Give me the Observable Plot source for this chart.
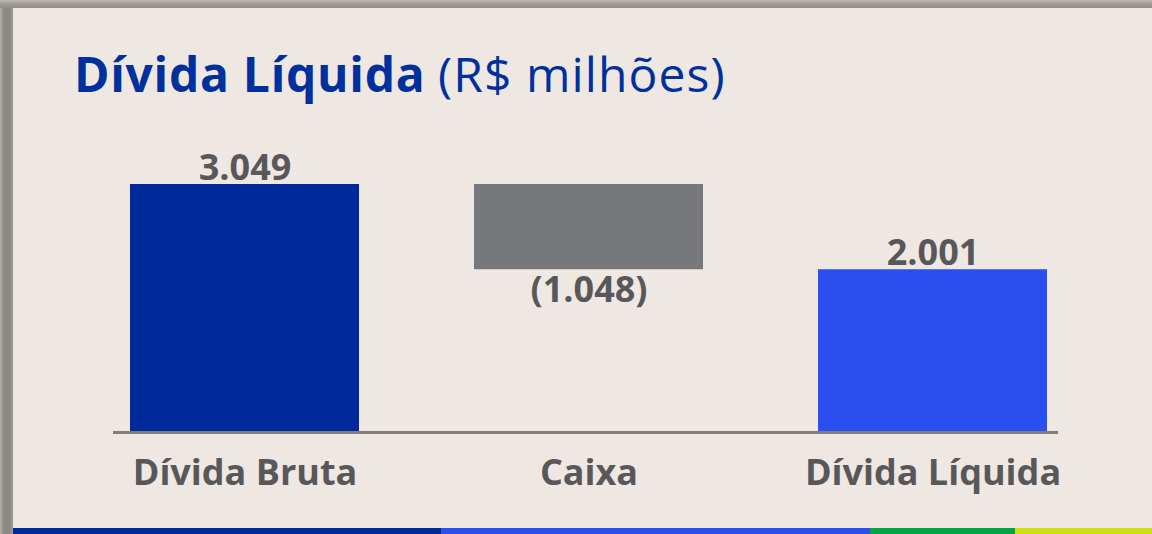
<!DOCTYPE html>
<html>
<head>
<meta charset="utf-8">
<script src="https://cdn.jsdelivr.net/npm/d3@7"></script>
<script src="https://cdn.jsdelivr.net/npm/@observablehq/plot@0.6"></script>
<style>
  html, body { margin: 0; padding: 0; }
  body { width: 1152px; height: 534px; overflow: hidden; position: relative;
         background: linear-gradient(to right, #b3afa9 0px, #8d8984 4px, #8d8984 10px, #a29e98 13px); }
  #topshade { position: absolute; left: 0; top: 0; width: 1152px; height: 8px;
              background: linear-gradient(to bottom, #bdb9b3 0px, #9d9993 4px, #8f8b86 8px); }
  #panel { position: absolute; left: 13px; top: 8px; width: 1139px; height: 526px; background: #EFE8E2; }
  #title { position: absolute; left: 74px; top: 50px; font-family: "Open Sans", sans-serif; font-size: 48px;
           line-height: 48px; color: #00309E; white-space: nowrap; }
  #title b { font-weight: 700; letter-spacing: 0.7px; }
  #title span { font-weight: 400; letter-spacing: 1.1px; }
  #chart { position: absolute; left: 0; top: 130px; }
  #strip { position: absolute; left: 13px; top: 528px; height: 6px; width: 1139px; display: flex; }
  #strip div { height: 6px; }
</style>
</head>
<body>
<div id="topshade"></div>
<div id="panel"></div>
<div id="title"><b>Dívida Líquida</b> <span>(R$ milhões)</span></div>
<div id="chart"></div>
<div id="strip">
  <div style="width:428px;background:#002A9A"></div>
  <div style="width:429px;background:#2B4EF0"></div>
  <div style="width:145px;background:#00A544"></div>
  <div style="width:137px;background:#CDE10F"></div>
</div>
<script>
const categories = ["Dívida Bruta", "Caixa", "Dívida Líquida"];
const barStart = [0, 3049, 0];
const barEnd = [3049, 2001, 2001];
const valueLabels = ["3.049", "(1.048)", "2.001"];
const barColors = ["#002A9A", "#77787B", "#2B4EF0"];

const data = categories.map((c, i) => ({
  cat: c, y1: barStart[i], y2: barEnd[i], label: valueLabels[i], color: barColors[i]
}));

const textColor = "#58585A";
const font = "'Open Sans', sans-serif";

const chart = Plot.plot({
  width: 1152,
  height: 404,
  marginLeft: 129,
  marginRight: 104,
  marginTop: 54,
  marginBottom: 102,
  style: { background: "transparent", fontFamily: font, color: textColor },
  x: { domain: categories, paddingInner: 1/3, paddingOuter: 0, label: null },
  y: { domain: [0, 3049], axis: null },
  color: { type: "identity" },
  marks: [
    Plot.barY(data, { x: "cat", y1: "y1", y2: "y2", fill: "color" }),
    Plot.ruleY([0], { stroke: "#7F7F7F", strokeWidth: 3, insetLeft: -16, insetRight: -10 }),
    Plot.text(data.filter(d => d.y2 >= d.y1), {
      x: "cat", y: "y2", text: "label", dy: -5, lineAnchor: "bottom",
      fontSize: 36, fontWeight: 700, fill: textColor, fontFamily: font
    }),
    Plot.text(data.filter(d => d.y2 < d.y1), {
      x: "cat", y: "y2", text: "label", dy: 7, lineAnchor: "top",
      fontSize: 36, fontWeight: 700, fill: textColor, fontFamily: font
    }),
    Plot.axisX({ tickSize: 0, tickPadding: 27, fontSize: 36, fontWeight: 700, fill: textColor, fontFamily: font, label: null })
  ]
});
document.getElementById("chart").appendChild(chart);
</script>
</body>
</html>
